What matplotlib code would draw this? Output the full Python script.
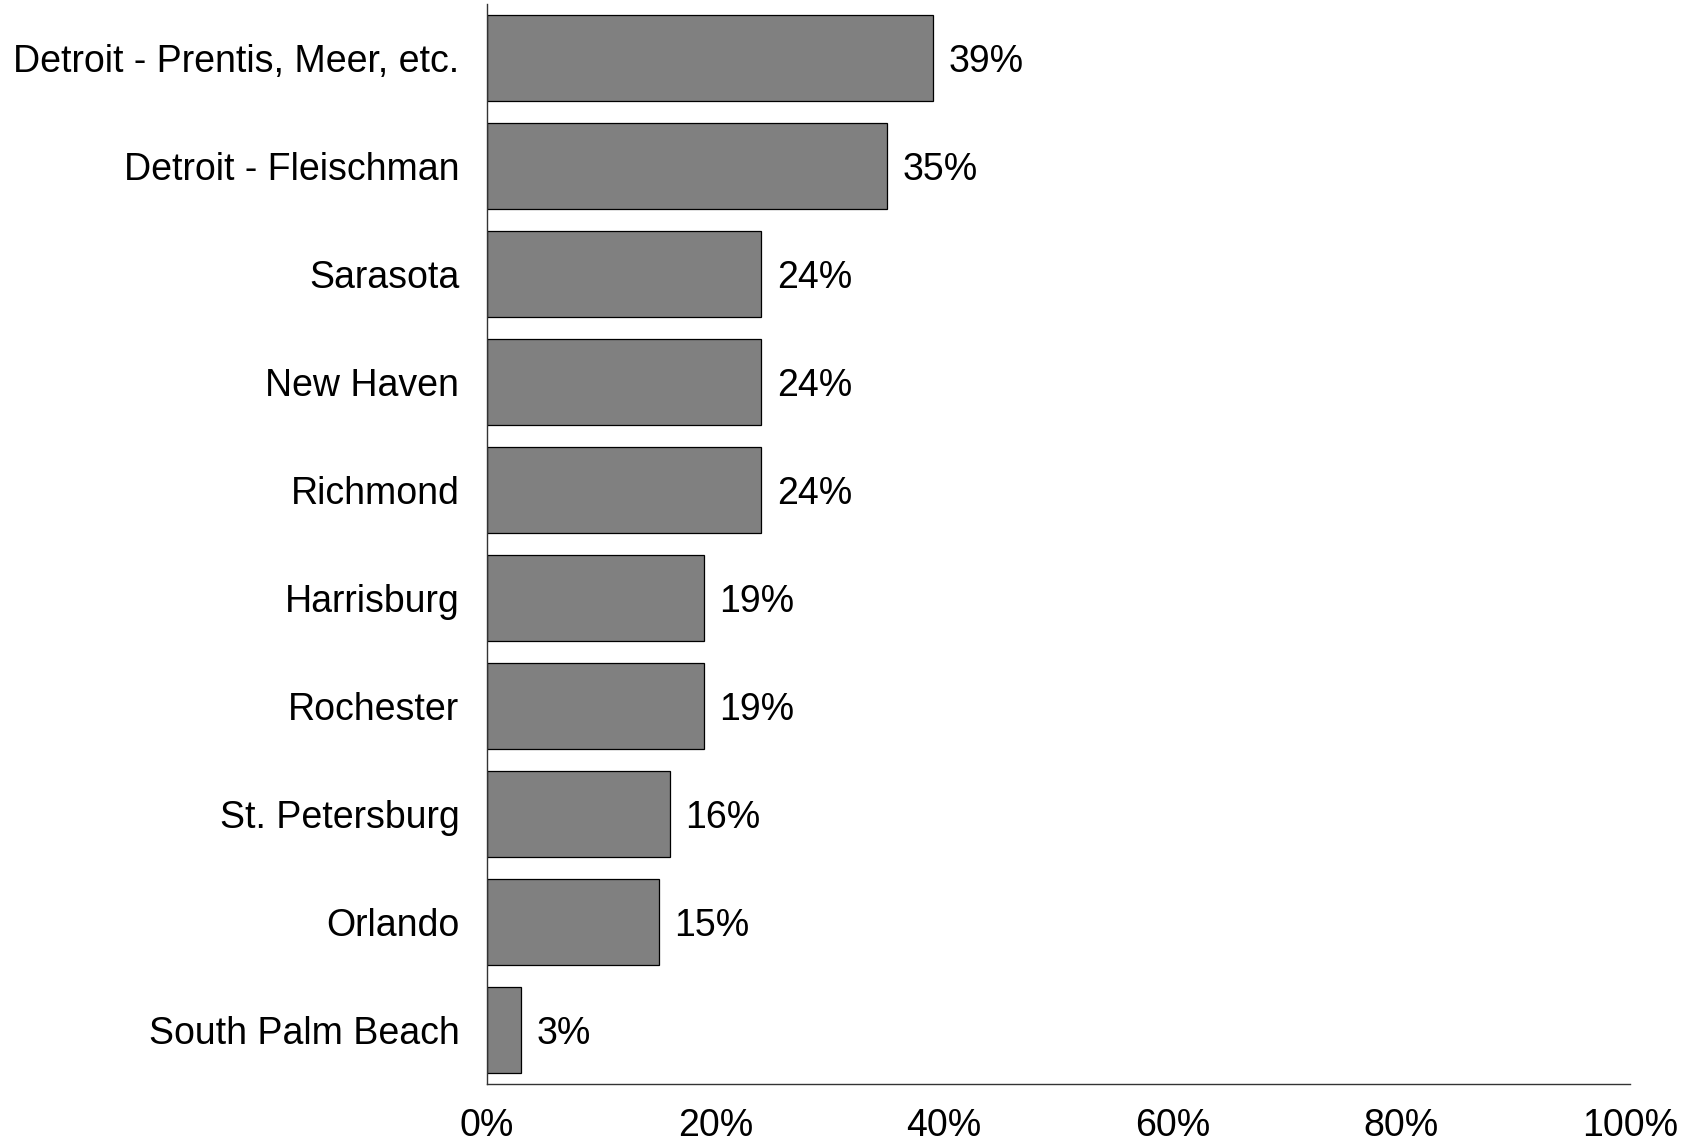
import matplotlib.pyplot as plt

plt.rcParams['font.family'] = ['Liberation Sans', 'DejaVu Sans']

# Data
cities = ['Detroit - Prentis, Meer, etc.', 'Detroit - Fleischman', 'Sarasota', 'New Haven',
          'Richmond', 'Harrisburg', 'Rochester', 'St. Petersburg', 'Orlando', 'South Palm Beach']
values = [39, 35, 24, 24, 24, 19, 19, 16, 15, 3]
xticks = [0, 20, 40, 60, 80, 100]

fig = plt.figure(figsize=(16.9, 11.41), dpi=100)
ax = fig.add_axes([0.2882, 0.05, 0.6763, 0.9465])

pos = list(range(len(cities)))
bars = ax.barh(pos, values, height=0.8, color='#808080', edgecolor='black', linewidth=0.9)

for b, v in zip(bars, values):
    ax.annotate(f'{v}%', (b.get_width(), b.get_y() + b.get_height() / 2),
                xytext=(11, 0), textcoords='offset points', va='center_baseline', ha='left', fontsize=27)

ax.set_xlim(0, 100)
ax.set_ylim(len(cities) - 0.5, -0.5)
ax.set_yticks(pos)
ax.set_yticklabels(cities, fontsize=27)
ax.set_xticks(xticks)
ax.set_xticklabels([f'{t}%' for t in xticks], fontsize=27)
ax.tick_params(axis='y', length=0, pad=20)
ax.tick_params(axis='x', length=0, pad=17)

for s in ['top', 'right']:
    ax.spines[s].set_visible(False)
for s in ['left', 'bottom']:
    ax.spines[s].set_color('#333333')
    ax.spines[s].set_linewidth(1.0)

fig.savefig('out.png', dpi=100)
